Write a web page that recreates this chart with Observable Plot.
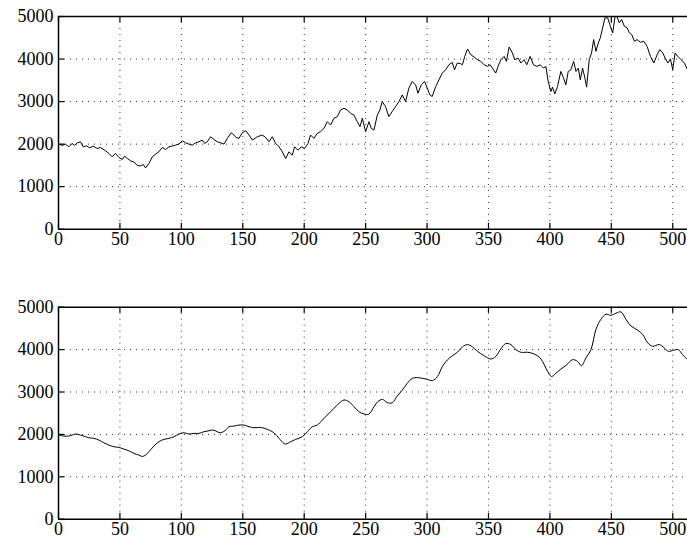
<!DOCTYPE html>
<html>
<head>
<meta charset="utf-8">
<script src="https://cdn.jsdelivr.net/npm/d3@7"></script>
<script src="https://cdn.jsdelivr.net/npm/@observablehq/plot@0.6"></script>
<style>
  html, body { margin: 0; padding: 0; background: #fff; }
  #chart svg { display: block; }
</style>
</head>
<body>
<div id="chart"></div>
<script>
// Tick values
const xTicks = [0, 50, 100, 150, 200, 250, 300, 350, 400, 450, 500];
const yTicks = [0, 1000, 2000, 3000, 4000, 5000];
const xGrid = [50, 100, 150, 200, 250, 300, 350, 400, 450, 500];
const yGrid = [1000, 2000, 3000, 4000];
const xDomain = [0, 512];
const yDomain = [0, 5000];

// Top panel: raw (noisy) series
const rawX = [0.5,3,5.7,8.4,11.1,13,15.2,17.9,20.1,22.8,25.5,28.2,31.5,34.2,38.3,41,43.7,46.4,49.2,51.9,53.8,56,58.7,61.4,64.1,66.8,69,70.9,73.6,76.3,79,81.7,84.4,87.2,89.9,92.6,95.3,98,100.7,103.5,106.2,108.9,111.6,114.3,117,119,121.1,123.8,126.5,129.2,132,134.7,137.4,140.6,142.8,144.5,146.9,149.6,152.4,155.1,157.8,161.8,165.9,168.6,171.3,174,176.8,179.5,182.2,184.9,187.6,190.3,192.2,194.9,197.6,200.3,203.1,205.2,207.9,210.6,213.3,216.1,218.8,221.5,224.2,226.9,229.6,232.4,235.1,237.8,240.5,243.2,245.4,247.3,250,252.7,254.6,256.8,259.5,261.6,263.5,266.2,268.9,271.6,274.4,277.1,279.8,282.5,285.2,287.9,290.7,292.6,295.3,298,300.2,302.3,304.2,307,309.7,312.4,315.1,317.8,320.5,322.4,324.6,327.3,328.8,330.7,332.9,335.6,338.3,341,343.7,346.4,349.2,351.3,353.2,355.9,357.8,360,362.7,364.6,366.8,369.5,371.4,374.1,376.3,379,381.2,383.9,386.6,389.4,392.1,394.8,396.7,398.6,400.8,402.1,404,406.2,408.9,411.1,413,414.9,417.1,419.3,421.2,423.1,424.7,426.6,428.5,429.9,432,433.9,435.6,437.5,439.4,441,442.9,444.8,447,449.2,451.1,453,454.6,456.5,458.4,460.6,462.8,464.7,466.6,468.8,471,473.7,476.4,479.1,481.8,484.6,487.3,489.4,491.9,493.8,496,498.1,500,501.9,504.1,506.8,509.5,512];
const rawY = [2000,1970,2000,1937,2015,1970,2030,2055,1937,1960,1913,1953,1898,1920,1843,1780,1700,1780,1685,1640,1717,1663,1606,1580,1500,1488,1520,1441,1543,1700,1764,1820,1920,1874,1937,1953,1976,2000,2079,2031,2000,1976,2031,2055,2094,2016,2055,2173,2110,2055,2031,2000,2134,2268,2213,2157,2134,2268,2315,2213,2094,2173,2213,2157,2055,2173,2016,1937,1819,1661,1819,1740,1937,1858,1937,1898,2016,2213,2134,2252,2291,2370,2528,2449,2606,2646,2803,2843,2803,2724,2685,2528,2409,2606,2291,2528,2370,2331,2685,2803,3000,2882,2646,2764,2882,3000,3157,3000,3315,3472,3394,3197,3394,3472,3315,3157,3118,3354,3512,3669,3748,3866,3921,3748,3906,3890,3866,4063,4236,4102,4047,3984,3945,3866,3827,3866,3787,3669,3827,3984,4063,3945,4283,4142,3984,4024,3906,3984,3866,4063,3866,3827,3866,3787,3827,3472,3236,3339,3181,3354,3709,3551,3394,3709,3748,3945,3709,3787,3512,3787,3551,3339,3984,4142,4457,4181,4378,4496,4732,4968,4968,4772,4614,5000,5000,4850,4929,4772,4732,4614,4575,4417,4457,4394,4417,4299,4063,3906,4102,4220,4142,4024,3906,4000,3748,4142,4063,3984,3906,3748];

// Bottom panel: smoothed series
const smoothX = [0.5,4.3,8.4,11.1,13.8,17.9,22,24.7,28.8,32.9,36.9,41,45.1,49.2,53.2,57.3,61.4,65.5,68.2,70.9,73.6,77.6,81.7,85.8,89.9,94,98,102.1,106.2,110.3,114.3,118.4,122.5,126,129.2,132,135.5,138.7,142.8,146.9,150.9,155.1,159.1,164.6,170,175.4,179.5,183.5,184.9,189,193,198.5,202.6,206.6,210.7,214.8,218.8,224.2,228.3,232.4,236.4,240.5,244.6,248.7,252.7,256.8,260,263.6,267.7,271.7,275.8,279.9,283.9,288,292.1,296.1,300.2,304.3,308.4,312.4,316.5,320.7,324.7,328.8,332.9,337,341,346.4,351.9,356,360,364.1,368.2,372.3,376.3,381.8,387.2,392.1,395.4,398.1,401.3,404.9,408.9,413.8,418.4,422.5,425.7,429.3,433.4,437.5,441.5,445.6,449.7,453.7,457.8,461.9,466,471.4,475.5,479.6,483.6,489,493.1,496.4,500.7,504.5,508,512];
const smoothY = [1984,1961,1961,1984,2008,1984,1945,1921,1906,1866,1803,1748,1709,1693,1654,1614,1551,1512,1480,1512,1591,1724,1827,1882,1906,1945,2008,2039,2008,2024,2024,2063,2087,2102,2063,2039,2087,2181,2197,2220,2220,2181,2157,2165,2118,2039,1906,1787,1772,1827,1882,1945,2063,2181,2220,2339,2457,2614,2732,2811,2772,2654,2535,2480,2480,2654,2772,2827,2748,2748,2906,3047,3205,3323,3339,3323,3299,3268,3362,3598,3756,3857,3937,4063,4119,4063,3960,3857,3778,3841,4016,4143,4119,4000,3937,3937,3897,3802,3643,3484,3365,3444,3540,3643,3762,3722,3619,3802,4000,4476,4714,4833,4810,4857,4889,4714,4556,4460,4357,4159,4079,4119,4040,3960,3984,4000,3881,3762];

const W = 687;
const ML = 58, MR = 0;
const TICK = 6;

function panel(xs, ys, curve, height, marginTop, marginBottom) {
  const data = xs.map((x, i) => ({x, y: ys[i]}));
  const innerH = height - marginTop - marginBottom;
  const innerW = W - ML - MR;
  return Plot.plot({
    width: W,
    height,
    marginLeft: ML,
    marginRight: MR,
    marginTop,
    marginBottom,
    style: {fontFamily: "'Liberation Serif', 'Times New Roman', serif", fontSize: "18px", background: "#fff", color: "#000"},
    x: {domain: xDomain, label: null},
    y: {domain: yDomain, label: null},
    marks: [
      Plot.ruleX(xGrid, {x: d => d, stroke: "#000", strokeOpacity: 0.8, strokeWidth: 1, strokeDasharray: "1,5"}),
      Plot.ruleY(yGrid, {y: d => d, stroke: "#000", strokeOpacity: 0.8, strokeWidth: 1, strokeDasharray: "1,5"}),
      Plot.line(data, {x: "x", y: "y", curve, stroke: "#000", strokeWidth: 1, clip: true}),
      // inward ticks
      Plot.ruleX(xTicks, {x: d => d, insetTop: innerH - TICK, stroke: "#000", strokeWidth: 1.2}),
      Plot.ruleX(xTicks, {x: d => d, insetBottom: innerH - TICK, stroke: "#000", strokeWidth: 1.2}),
      Plot.ruleY(yTicks, {y: d => d, insetRight: innerW - TICK, stroke: "#000", strokeWidth: 1.2}),
      // box
      Plot.ruleX([0], {x: d => d, stroke: "#000", strokeWidth: 1.5}),
      Plot.ruleY([0, 5000], {y: d => d, stroke: "#000", strokeWidth: 1.5}),
      Plot.axisX({ticks: xTicks, tickSize: 0, tickPadding: 3.5, tickFormat: d => String(d), fill: "#000", label: null}),
      Plot.axisY({ticks: yTicks, tickSize: 0, tickPadding: 5, tickFormat: d => String(d), fill: "#000", label: null})
    ]
  });
}

const chart = document.getElementById("chart");
chart.appendChild(panel(rawX, rawY, "linear", 260, 16, 31.3));
chart.appendChild(panel(smoothX, smoothY, "catmull-rom", 286, 46.7, 27.3));
</script>
</body>
</html>
